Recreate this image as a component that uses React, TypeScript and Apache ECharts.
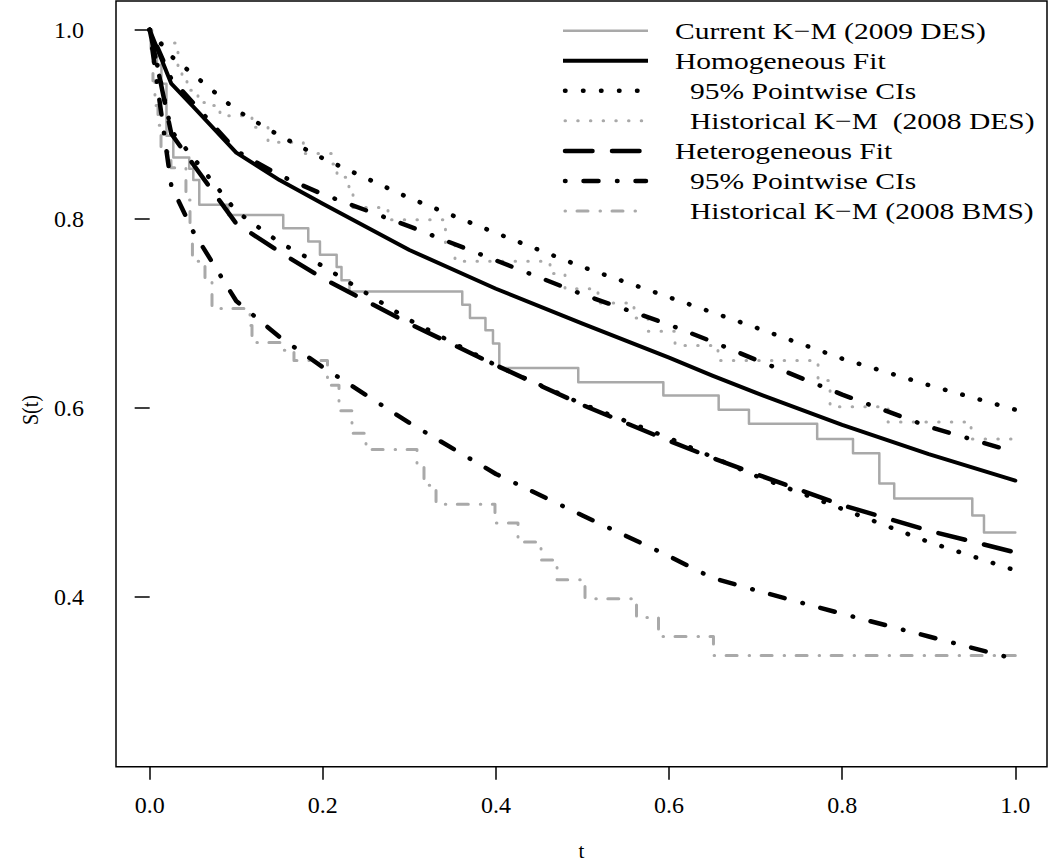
import React, { useEffect, useRef } from "react";
import * as echarts from "echarts";

const FONT = '"Liberation Serif", "Times New Roman", Times, serif';
const GRAY = "#a9a9a9";

// ---- tick labels ----
const xTicks = [0, 0.2, 0.4, 0.6, 0.8, 1.0];
const yTicks = [0.4, 0.6, 0.8, 1.0];

// ---- fitted curves (shared time grid) ----
const tGrid = [0, 0.025, 0.05, 0.1, 0.15, 0.2, 0.3, 0.4, 0.5, 0.6, 0.65, 0.7, 0.8, 0.9, 1.0];
const homogFit = [1.0, 0.943, 0.919, 0.87, 0.841, 0.816, 0.767, 0.726, 0.689, 0.653, 0.634, 0.616, 0.582, 0.551, 0.523];
const homogUpper = [1.0, 0.972, 0.953, 0.915, 0.888, 0.864, 0.822, 0.785, 0.749, 0.717, 0.701, 0.685, 0.652, 0.624, 0.598];
const homogLower = [1.0, 0.893, 0.865, 0.808, 0.775, 0.75, 0.693, 0.645, 0.604, 0.568, 0.548, 0.528, 0.493, 0.458, 0.428];
const hetFit = [1.0, 0.89, 0.858, 0.795, 0.765, 0.737, 0.689, 0.645, 0.603, 0.565, 0.547, 0.53, 0.497, 0.47, 0.447];
const hetUpper = [1.0, 0.948, 0.923, 0.872, 0.846, 0.826, 0.792, 0.756, 0.72, 0.688, 0.67, 0.651, 0.614, 0.58, 0.553];
const hetLower = [1.0, 0.835, 0.787, 0.713, 0.675, 0.643, 0.584, 0.53, 0.486, 0.443, 0.42, 0.407, 0.382, 0.358, 0.334];

// ---- Kaplan-Meier step functions ----
const currentKmT = [0, 0.0027, 0.0084, 0.0136, 0.0194, 0.0273, 0.0457, 0.0504, 0.0573, 0.0908, 0.1543, 0.1832, 0.1967, 0.216, 0.2216, 0.2308, 0.3611, 0.37, 0.3879, 0.3966, 0.4039, 0.4951, 0.5934, 0.6573, 0.6923, 0.7711, 0.8125, 0.8429, 0.8601, 0.9503, 0.9638, 1.0];
const currentKmS = [1, 0.983, 0.963, 0.943, 0.888, 0.865, 0.853, 0.841, 0.815, 0.804, 0.79, 0.776, 0.762, 0.749, 0.735, 0.723, 0.709, 0.695, 0.682, 0.668, 0.642, 0.627, 0.613, 0.598, 0.583, 0.567, 0.552, 0.52, 0.504, 0.486, 0.468, 0.468];

const histDesT = [0, 0.0038, 0.0327, 0.0373, 0.0431, 0.0558, 0.0697, 0.0812, 0.1182, 0.1367, 0.1775, 0.2106, 0.2164, 0.2302, 0.2349, 0.2753, 0.3417, 0.3527, 0.4625, 0.4798, 0.5179, 0.5595, 0.5757, 0.6069, 0.6565, 0.7721, 0.786, 0.853, 0.9489, 1.0];
const histDesS = [1, 0.986, 0.96, 0.952, 0.936, 0.923, 0.92, 0.909, 0.897, 0.881, 0.869, 0.858, 0.844, 0.832, 0.812, 0.799, 0.772, 0.755, 0.742, 0.726, 0.711, 0.695, 0.681, 0.666, 0.65, 0.629, 0.601, 0.585, 0.567, 0.567];

const histBmsT = [0, 0.0015, 0.0038, 0.0061, 0.0096, 0.0131, 0.0246, 0.0419, 0.0466, 0.0494, 0.0639, 0.072, 0.1159, 0.1182, 0.1517, 0.1667, 0.2054, 0.2187, 0.2337, 0.2499, 0.3088, 0.3169, 0.3308, 0.3989, 0.4255, 0.4521, 0.4706, 0.5029, 0.5624, 0.5878, 0.6513, 1.0];
const histBmsS = [1, 0.98, 0.946, 0.92, 0.899, 0.871, 0.854, 0.82, 0.793, 0.755, 0.735, 0.705, 0.687, 0.669, 0.661, 0.65, 0.624, 0.597, 0.573, 0.556, 0.537, 0.518, 0.498, 0.478, 0.458, 0.439, 0.418, 0.398, 0.378, 0.358, 0.338, 0.338];

// ---- legend ----
const legendLabels = [
  "Current K\u2212M (2009 DES)",
  "Homogeneous Fit",
  "95% Pointwise CIs",
  "Historical K\u2212M  (2008 DES)",
  "Heterogeneous Fit",
  "95% Pointwise CIs",
  "Historical K\u2212M (2008 BMS)",
];
const legendIndent = [false, false, true, true, false, true, true];

const zip = (ts: number[], ss: number[]) => ts.map((t, i) => [t, ss[i]]);

// line styles
const styles = {
  currentKm: { color: GRAY, width: 2.5, type: "solid" as any },
  homogFit: { color: "#000", width: 4, type: "solid" as any },
  homogCI: { color: "#000", width: 4.5, type: [0.5, 17.5] as any },
  histDes: { color: GRAY, width: 3, type: [0.5, 12.2] as any },
  hetFit: { color: "#000", width: 4.5, type: [27.5, 19.5] as any },
  hetCI: { color: "#000", width: 4.5, type: [0.5, 18, 15, 18.5] as any },
  histBms: { color: GRAY, width: 3, type: [0.5, 11.5, 11, 12] as any },
};
const legendStyles = [
  styles.currentKm,
  styles.homogFit,
  styles.homogCI,
  styles.histDes,
  styles.hetFit,
  styles.hetCI,
  styles.histBms,
];

function mkSeries(name: string, data: number[][], st: any, step: boolean) {
  return {
    name,
    type: "line",
    data,
    step: step ? "end" : false,
    showSymbol: false,
    symbol: "none",
    silent: true,
    clip: true,
    lineStyle: { color: st.color, width: st.width, type: st.type, cap: "round", join: "round" },
  };
}

export default function App() {
  const ref = useRef<HTMLDivElement>(null);
  useEffect(() => {
    const chart = echarts.init(ref.current!, null, { renderer: "svg", width: 1050, height: 862 });

    const legendEls: any[] = [];
    const rowY0 = 30.7;
    const rowStep = 30.05;
    legendLabels.forEach((lab, i) => {
      const y = rowY0 + rowStep * i;
      const st = legendStyles[i];
      legendEls.push({
        type: "line",
        silent: true,
        shape: { x1: 565, y1: y, x2: st.type === "solid" ? 648 : 646, y2: y },
        style: {
          stroke: st.color,
          lineWidth: st.width,
          lineDash: st.type === "solid" ? null : st.type,
          lineCap: st.type === "solid" ? "butt" : "round",
        },
      });
      if (st.type === "solid") {
        legendEls[legendEls.length - 1].shape.x1 = 563;
      }
      legendEls.push({
        type: "text",
        silent: true,
        x: legendIndent[i] ? 690 : 675,
        y,
        scaleX: 1.23,
        style: {
          text: lab,
          fontSize: 24,
          fontFamily: FONT,
          fill: "#000",
          align: "left",
          verticalAlign: "middle",
          textAlign: "left",
          textVerticalAlign: "middle",
        },
      });
    });

    const option: any = {
      animation: false,
      backgroundColor: "#fff",
      grid: {
        left: 116,
        top: 1,
        right: 3,
        bottom: 95.3,
        show: true,
        borderColor: "#000",
        borderWidth: 1.5,
        backgroundColor: "transparent",
        containLabel: false,
        outerBoundsMode: "none",
      },
      xAxis: {
        type: "value",
        min: -0.0389,
        max: 1.0366,
        axisLine: { show: false },
        splitLine: { show: false },
        axisTick: {
          show: true,
          inside: false,
          length: 13,
          customValues: xTicks,
          lineStyle: { color: "#000", width: 1.5 },
        },
        axisLabel: {
          customValues: xTicks,
          formatter: (v: number) => v.toFixed(1),
          margin: 26,
          fontSize: 24,
          fontFamily: FONT,
          color: "#000",
        },
        name: "t",
        nameLocation: "middle",
        nameGap: 74,
        nameMoveOverlap: false,
        nameTextStyle: { fontSize: 21, fontFamily: FONT, color: "#000" },
      },
      yAxis: {
        type: "value",
        min: 0.2202,
        max: 1.0305,
        axisLine: { show: false },
        splitLine: { show: false },
        axisTick: {
          show: true,
          inside: false,
          length: 15,
          customValues: yTicks,
          lineStyle: { color: "#000", width: 1.5 },
        },
        axisLabel: {
          customValues: yTicks,
          formatter: (v: number) => v.toFixed(1),
          margin: 32,
          fontSize: 24,
          fontFamily: FONT,
          color: "#000",
        },
      },
      graphic: [
        ...legendEls,
        {
          type: "text",
          silent: true,
          x: 30,
          y: 410,
          rotation: Math.PI / 2,
          scaleY: 1.2,
          style: {
            text: "S(t)",
            fontSize: 20,
            fontFamily: FONT,
            fill: "#000",
            align: "center",
            verticalAlign: "middle",
            textAlign: "center",
            textVerticalAlign: "middle",
          },
        },
      ],
      series: [
        mkSeries("Historical K\u2212M (2008 BMS)", zip(histBmsT, histBmsS), styles.histBms, true),
        mkSeries("Historical K\u2212M (2008 DES)", zip(histDesT, histDesS), styles.histDes, true),
        mkSeries("Current K\u2212M (2009 DES)", zip(currentKmT, currentKmS), styles.currentKm, true),
        mkSeries("Homogeneous Fit", zip(tGrid, homogFit), styles.homogFit, false),
        mkSeries("Homogeneous 95% upper", zip(tGrid, homogUpper), styles.homogCI, false),
        mkSeries("Homogeneous 95% lower", zip(tGrid, homogLower), styles.homogCI, false),
        mkSeries("Heterogeneous Fit", zip(tGrid, hetFit), styles.hetFit, false),
        mkSeries("Heterogeneous 95% upper", zip(tGrid, hetUpper), styles.hetCI, false),
        mkSeries("Heterogeneous 95% lower", zip(tGrid, hetLower), styles.hetCI, false),
      ],
    };

    chart.setOption(option);
    return () => chart.dispose();
  }, []);
  return (
    <div
      ref={ref}
      style={{ position: "fixed", left: 0, top: 0, width: 1050, height: 862, background: "#fff" }}
    />
  );
}
